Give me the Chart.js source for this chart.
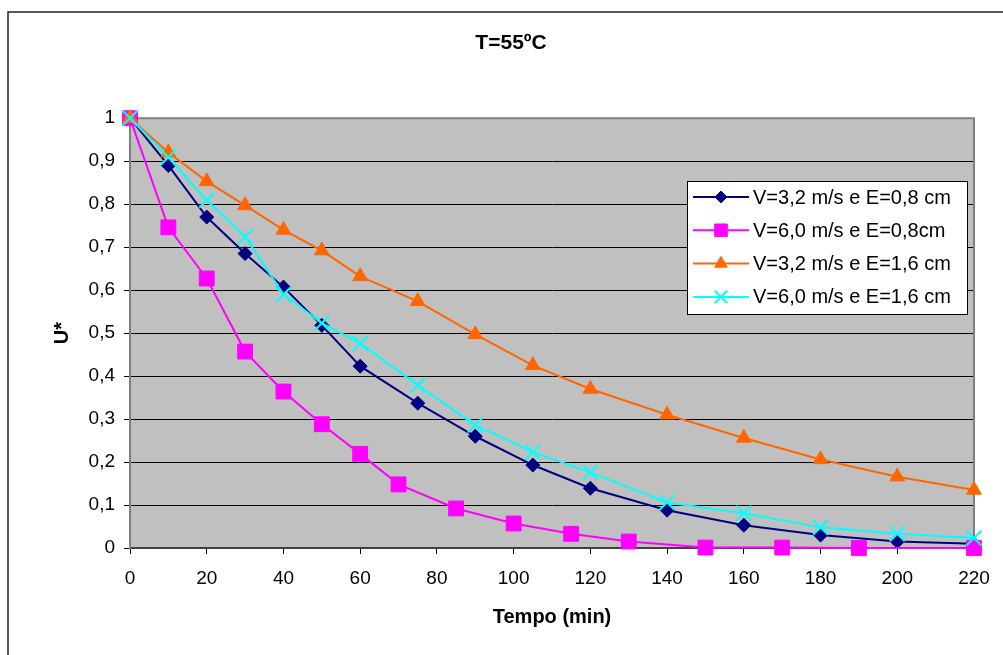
<!doctype html>
<html lang="pt">
  <head>
    <meta charset="UTF-8" />
    <title>T=55ºC</title>
    <script src="https://cdn.jsdelivr.net/npm/chart.js"></script>
    <style>
      body {
        margin: 0;
        background: #fff;
        overflow: hidden;
      }
      #wrap {
        width: 1003px;
        height: 655px;
      }
    </style>
  </head>
  <body>
    <div id="wrap">
      <canvas id="secagem" width="1003" height="655"></canvas>
    </div>

    <script>
      // tempos (min)
      const tempoA = [0, 10, 20, 30, 40, 50, 60, 75, 90, 105, 120, 140, 160, 180, 200, 220];
      const tempoB = [0, 10, 20, 30, 40, 50, 60, 70, 85, 100, 115, 130, 150, 170, 190, 220];

      // U*
      const u32e08 = [1, 0.89, 0.77, 0.685, 0.607, 0.518, 0.423, 0.337, 0.26, 0.193, 0.139, 0.088, 0.053, 0.03, 0.015, 0.01];
      const u60e08 = [1, 0.746, 0.627, 0.457, 0.364, 0.288, 0.219, 0.148, 0.092, 0.057, 0.033, 0.015, 0.001, 0.001, 0, 0];
      const u32e16 = [1, 0.92, 0.853, 0.797, 0.74, 0.692, 0.632, 0.574, 0.497, 0.425, 0.37, 0.31, 0.256, 0.206, 0.166, 0.135];
      const u60e16 = [1, 0.909, 0.809, 0.724, 0.59, 0.523, 0.476, 0.379, 0.286, 0.223, 0.176, 0.106, 0.081, 0.048, 0.033, 0.023];

      const nomes = ['V=3,2 m/s e E=0,8 cm', 'V=6,0 m/s e E=0,8cm', 'V=3,2 m/s e E=1,6 cm', 'V=6,0 m/s e E=1,6 cm'];

      const FONTE = '"Liberation Sans", Arial, sans-serif';

      function pontos(xs, ys) {
        return xs.map((x, i) => ({ x: x, y: ys[i] }));
      }

      function serie(label, xs, ys, cor, estilo, raio, ordem, bw) {
        return {
          label: label,
          data: pontos(xs, ys),
          borderColor: cor,
          backgroundColor: cor,
          borderWidth: 2,
          pointStyle: estilo,
          pointRadius: raio,
          pointBackgroundColor: cor,
          pointBorderColor: cor,
          pointBorderWidth: bw,
          tension: 0,
          clip: false,
          order: ordem,
        };
      }

      // desenha os marcadores da legenda
      function marcador(ctx, estilo, x, y, r, cor) {
        ctx.save();
        ctx.fillStyle = cor;
        ctx.strokeStyle = cor;
        ctx.lineWidth = estilo === 'crossRot' ? 2 : 1;
        ctx.beginPath();
        if (estilo === 'rectRot') {
          ctx.moveTo(x, y - r);
          ctx.lineTo(x + r, y);
          ctx.lineTo(x, y + r);
          ctx.lineTo(x - r, y);
          ctx.closePath();
          ctx.fill();
          ctx.stroke();
        } else if (estilo === 'rect') {
          const s = r * Math.SQRT1_2;
          ctx.rect(x - s, y - s, 2 * s, 2 * s);
          ctx.fill();
          ctx.stroke();
        } else if (estilo === 'triangle') {
          ctx.moveTo(x, y - r);
          ctx.lineTo(x + r * 0.866, y + r / 2);
          ctx.lineTo(x - r * 0.866, y + r / 2);
          ctx.closePath();
          ctx.fill();
          ctx.stroke();
        } else {
          const o = r * Math.SQRT1_2;
          ctx.moveTo(x - o, y - o);
          ctx.lineTo(x + o, y + o);
          ctx.moveTo(x + o, y - o);
          ctx.lineTo(x - o, y + o);
          ctx.stroke();
        }
        ctx.restore();
      }

      const fundo = {
        id: 'fundo',
        beforeDraw(chart) {
          const { ctx, chartArea: a } = chart;
          ctx.save();
          ctx.fillStyle = '#fff';
          ctx.fillRect(0, 0, chart.width, chart.height);
          // moldura externa
          ctx.strokeStyle = '#222';
          ctx.lineWidth = 1.5;
          ctx.beginPath();
          ctx.moveTo(8, chart.height + 2);
          ctx.lineTo(8, 12);
          ctx.lineTo(chart.width + 2, 12);
          ctx.stroke();
          // area do grafico
          ctx.fillStyle = '#c0c0c0';
          ctx.fillRect(a.left, a.top, a.right - a.left, a.bottom - a.top);
          ctx.restore();
        },
        beforeDatasetsDraw(chart) {
          const { ctx, chartArea: a } = chart;
          ctx.save();
          ctx.strokeStyle = '#808080';
          ctx.lineWidth = 2;
          ctx.beginPath();
          ctx.moveTo(a.left, a.top);
          ctx.lineTo(a.right, a.top);
          ctx.lineTo(a.right, a.bottom);
          ctx.stroke();
          ctx.restore();
        },
      };

      const legenda = {
        id: 'legenda',
        afterDraw(chart) {
          const ctx = chart.ctx;
          const x0 = 687, y0 = 181, w = 280, h = 133;
          ctx.save();
          ctx.fillStyle = '#fff';
          ctx.fillRect(x0, y0, w, h);
          ctx.strokeStyle = '#000';
          ctx.lineWidth = 1;
          ctx.strokeRect(x0 + 0.5, y0 + 0.5, w, h);
          ctx.font = '20px ' + FONTE;
          ctx.textBaseline = 'middle';
          ctx.textAlign = 'left';
          chart.data.datasets.forEach((ds, i) => {
            const y = y0 + 16 + i * 33.3;
            ctx.strokeStyle = ds.borderColor;
            ctx.lineWidth = 2;
            ctx.beginPath();
            ctx.moveTo(x0 + 6, y);
            ctx.lineTo(x0 + 62, y);
            ctx.stroke();
            marcador(ctx, ds.pointStyle, x0 + 34, y, ds.pointRadius * 0.85, ds.borderColor);
            ctx.fillStyle = '#000';
            ctx.fillText(ds.label, x0 + 66, y + 1);
          });
          ctx.restore();
        },
      };

      const ctx = document.getElementById('secagem').getContext('2d');
      new Chart(ctx, {
        type: 'line',
        data: {
          datasets: [
            serie(nomes[0], tempoA, u32e08, '#000080', 'rectRot', 7, 3, 1),
            serie(nomes[1], tempoB, u60e08, '#ff00ff', 'rect', 10.5, 2, 1),
            serie(nomes[2], tempoA, u32e16, '#ff6600', 'triangle', 8.5, 1, 1),
            serie(nomes[3], tempoA, u60e16, '#00ffff', 'crossRot', 10.5, 0, 2),
          ],
        },
        options: {
          responsive: false,
          animation: false,
          devicePixelRatio: 1,
          layout: { padding: { left: 48, right: 29, top: 0, bottom: 0 } },
          plugins: {
            legend: { display: false },
            tooltip: { enabled: false },
            title: {
              display: true,
              text: 'T=55ºC',
              color: '#000',
              font: { family: FONTE, size: 21, weight: 'bold' },
              padding: { top: 31, bottom: 62 },
            },
          },
          scales: {
            x: {
              type: 'linear',
              min: 0,
              max: 220,
              ticks: {
                stepSize: 20,
                padding: 13,
                color: '#000',
                maxRotation: 0,
                font: { family: FONTE, size: 19 },
              },
              grid: { drawOnChartArea: false, tickLength: 6, tickColor: '#000', tickWidth: 1 },
              border: { color: '#404040', width: 2 },
              title: {
                display: true,
                text: 'Tempo (min)',
                color: '#000',
                font: { family: FONTE, size: 20, weight: 'bold' },
                padding: { top: 0, bottom: 26 },
              },
              afterFit: (s) => {
                s.height = 107;
              },
            },
            y: {
              min: 0,
              max: 1,
              ticks: {
                stepSize: 0.1,
                padding: 9,
                color: '#000',
                font: { family: FONTE, size: 19 },
                callback: (v) => String(Math.round(v * 10) / 10).replace('.', ','),
              },
              grid: { color: '#000', lineWidth: 1, tickLength: 6, tickColor: '#000' },
              border: { color: '#808080', width: 2 },
              title: {
                display: true,
                text: 'U*',
                color: '#000',
                font: { family: FONTE, size: 20, weight: 'bold' },
                padding: { top: 2, bottom: 0 },
              },
              afterFit: (s) => {
                s.width = 82;
              },
            },
          },
        },
        plugins: [fundo, legenda],
      });
    </script>
  </body>
</html>
